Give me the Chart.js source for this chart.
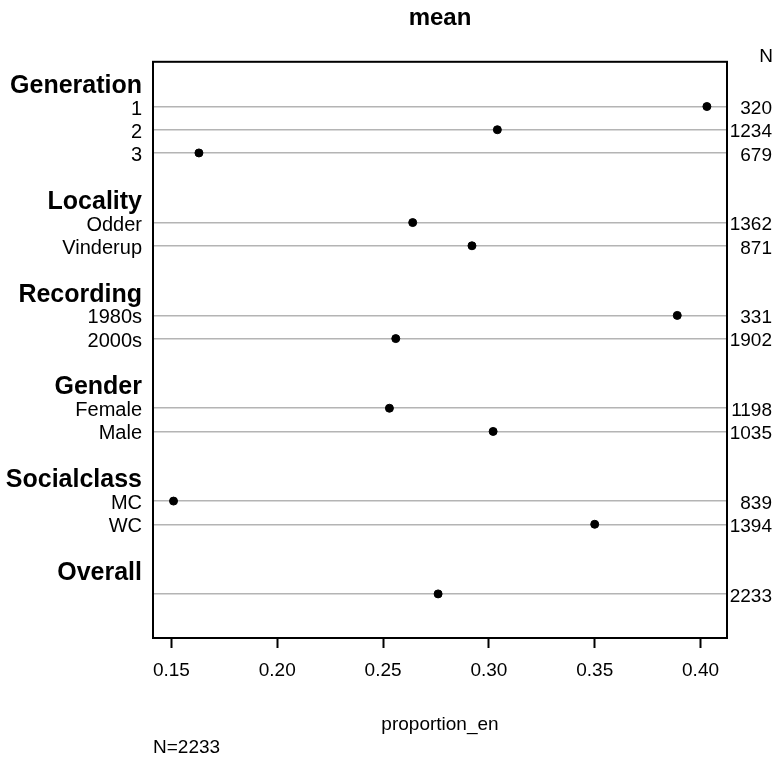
<!DOCTYPE html>
<html>
<head>
<meta charset="utf-8">
<script src="https://cdn.jsdelivr.net/npm/chart.js@4/dist/chart.umd.min.js"></script>
<style>
  html, body { margin: 0; padding: 0; background: #fff; }
  #wrap { width: 777px; height: 758px; }
</style>
</head>
<body>
<div id="wrap"><canvas id="myChart"></canvas></div>
<script>
// data
var groups = ['Generation', 'Locality', 'Recording', 'Gender', 'Socialclass', 'Overall'];
var levels = [['1', '2', '3'], ['Odder', 'Vinderup'], ['1980s', '2000s'], ['Female', 'Male'], ['MC', 'WC'], ['']];
var means = [[0.403, 0.304, 0.163], [0.264, 0.292], [0.389, 0.256], [0.253, 0.302], [0.151, 0.350], [0.276]];
var counts = [[320, 1234, 679], [1362, 871], [331, 1902], [1198, 1035], [839, 1394], [2233]];
var xTicks = [0.15, 0.20, 0.25, 0.30, 0.35, 0.40];
var totalN = 2233;

var FONT = '"Liberation Sans", Arial, sans-serif';

/* one row per header, level and gap between groups */
var rows = [];
groups.forEach(function (g, gi) {
    rows.push({ label: g, type: 'head' });
    levels[gi].forEach(function (lv, li) {
        rows.push({ label: lv, type: 'level', n: counts[gi][li], mean: means[gi][li] });
    });
    if (gi < groups.length - 1) rows.push({ label: '', type: 'blank' });
});

var points = [];
rows.forEach(function (r, i) {
    if (r.type === 'level') points.push({ x: r.mean, y: i });
});

function rowTicks(scale) {
    scale.ticks = rows.map(function (r, i) { return { value: i }; });
}

// frame, "N" header and the footnote
var extras = {
    id: 'extras',
    afterDraw: function (chart) {
        var c = chart.ctx, a = chart.chartArea;
        c.save();
        c.strokeStyle = '#000';
        c.lineWidth = 2;
        c.strokeRect(a.left, a.top, a.right - a.left, a.bottom - a.top);
        c.fillStyle = '#000';
        c.font = '19px ' + FONT;
        c.textBaseline = 'middle';
        c.textAlign = 'right';
        c.fillText('N', 773, 57);
        c.textAlign = 'left';
        c.fillText('N=' + totalN, a.left, 748);
        c.restore();
    }
};

var ctx = document.getElementById('myChart').getContext('2d');
var chart = new Chart(ctx, {
    type: 'scatter',
    data: {
        datasets: [{
            data: points,
            backgroundColor: '#000',
            borderColor: '#000',
            pointRadius: 4,
            pointHoverRadius: 4
        }]
    },
    options: {
        responsive: true,
        maintainAspectRatio: false,
        animation: false,
        layout: { padding: { top: 0, right: 5, bottom: 0, left: 0 } },
        plugins: {
            legend: { display: false },
            tooltip: { enabled: false },
            title: {
                display: true,
                text: 'mean',
                fullSize: false,
                color: '#000',
                font: { family: FONT, size: 24, weight: 'bold', lineHeight: 1.2 },
                padding: { top: 4, bottom: 29 }
            }
        },
        scales: {
            x: {
                type: 'linear',
                min: 0.1413,
                max: 0.4125,
                afterBuildTicks: function (scale) {
                    scale.ticks = xTicks.map(function (v) { return { value: v }; });
                },
                afterFit: function (scale) { scale.height = 120; },
                border: { display: false },
                grid: {
                    drawOnChartArea: false,
                    tickLength: 10,
                    tickWidth: 2,
                    tickColor: '#000'
                },
                ticks: {
                    color: '#000',
                    padding: 11,
                    font: { family: FONT, size: 19 },
                    callback: function (v) { return Number(v).toFixed(2); }
                },
                title: {
                    display: true,
                    text: 'proportion_en',
                    color: '#000',
                    font: { family: FONT, size: 19, lineHeight: 1.2 },
                    padding: { top: 0, bottom: 22 }
                }
            },
            y: {
                type: 'linear',
                reverse: true,
                min: -0.927,
                max: 23.9,
                afterBuildTicks: rowTicks,
                afterFit: function (scale) { scale.width = 153; },
                border: { display: false },
                grid: {
                    drawTicks: false,
                    lineWidth: 1.5,
                    color: function (c) {
                        var r = rows[c.index];
                        return r && r.type === 'level' ? '#b4b4b4' : 'rgba(0,0,0,0)';
                    }
                },
                ticks: {
                    color: '#000',
                    padding: 11,
                    labelOffset: 2.5,
                    autoSkip: false,
                    font: function (c) {
                        var r = rows[c.index];
                        if (r && r.type === 'head') return { family: FONT, size: 25, weight: 'bold' };
                        return { family: FONT, size: 20 };
                    },
                    callback: function (v, i) { return rows[i] ? rows[i].label : ''; }
                }
            },
            yN: {
                type: 'linear',
                position: 'right',
                reverse: true,
                min: -0.927,
                max: 23.9,
                afterBuildTicks: rowTicks,
                afterFit: function (scale) { scale.width = 45; },
                border: { display: false },
                grid: { drawOnChartArea: false, drawTicks: false },
                ticks: {
                    color: '#000',
                    crossAlign: 'far',
                    padding: 2,
                    labelOffset: 2.5,
                    autoSkip: false,
                    font: { family: FONT, size: 19 },
                    callback: function (v, i) {
                        return rows[i] && rows[i].type === 'level' ? String(rows[i].n) : '';
                    }
                }
            }
        }
    },
    plugins: [extras]
});
</script>
</body>
</html>
